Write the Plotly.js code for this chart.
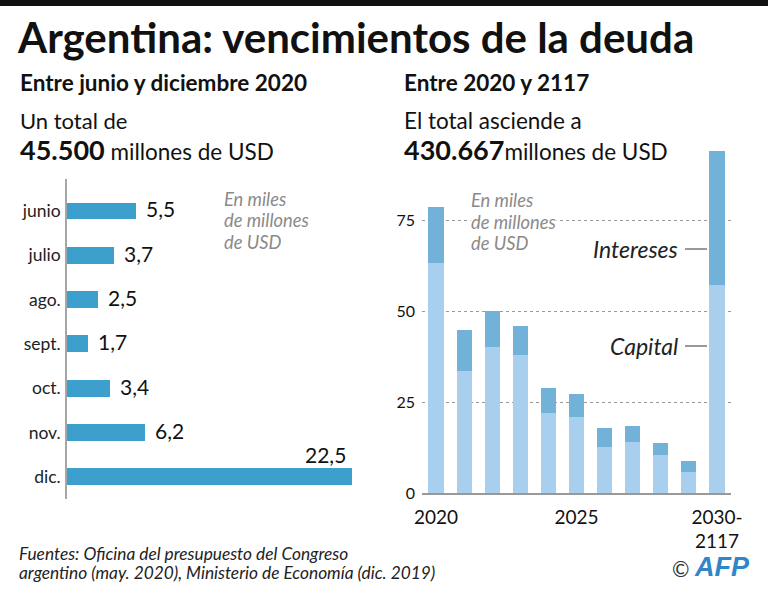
<!DOCTYPE html>
<html>
<head>
<meta charset="utf-8">
<script src="https://cdn.plot.ly/plotly-3.0.1.min.js"></script>
<style>
html,body{margin:0;padding:0;background:#fff;}
#chart{width:768px;height:593px;}
</style>
</head>
<body>
<div id="chart"></div>
<script>
// ---- Data ----
const months = ['junio', 'julio', 'ago.', 'sept.', 'oct.', 'nov.', 'dic.'];
const monthValues = [5.5, 3.7, 2.5, 1.7, 3.4, 6.2, 22.5];

const years = ['2020', '2021', '2022', '2023', '2024', '2025', '2026', '2027', '2028', '2029', '2030-2117'];
const capital = [63.4, 33.6, 40.1, 38.1, 22.0, 21.0, 12.7, 14.1, 10.4, 5.9, 57.1];
const interest = [15.4, 11.4, 9.9, 7.9, 6.8, 6.2, 5.2, 4.3, 3.4, 3.1, 36.9];

const yearTickVals = ['2020', '2025', '2030-2117'];
const yearTickText = ['2020', '2025', '2030-<br>2117'];
const valueTicks = [0, 25, 50, 75];
const unitLines = ['En miles', 'de millones', 'de USD'];

// ---- Layout helpers ----
const W = 768, H = 593;
const FONT = 'Lato, "Noto Sans", sans-serif';
const px = x => x / W;
const py = y => 1 - y / H;
const fmt = v => v.toFixed(1).replace('.', ',');

const traces = [
  {
    type: 'bar', orientation: 'h', x: monthValues, y: months,
    xaxis: 'x', yaxis: 'y', width: 0.38,
    marker: {color: '#3d9fcc'}, hoverinfo: 'skip'
  },
  {
    type: 'bar', x: years, y: capital, name: 'Capital',
    xaxis: 'x2', yaxis: 'y2', width: 0.54,
    marker: {color: '#a8d0ee'}, hoverinfo: 'skip'
  },
  {
    type: 'bar', x: years, y: interest, name: 'Intereses',
    xaxis: 'x2', yaxis: 'y2', width: 0.54,
    marker: {color: '#72b1d8'}, hoverinfo: 'skip'
  }
];

const annotations = [];
function txt(text, x, y, opts) {
  annotations.push(Object.assign({
    text: text, xref: 'paper', yref: 'paper', x: px(x), y: py(y),
    xanchor: 'left', yanchor: 'middle', showarrow: false,
    font: {family: FONT, size: 20, color: '#111'}
  }, opts || {}));
}

// Headers
txt('<b>Argentina: vencimientos de la deuda</b>', 15, 37, {font: {family: FONT, size: 42, color: '#111'}});
txt('<b>Entre junio y diciembre 2020</b>', 18, 82, {font: {family: FONT, size: 22.5, color: '#111'}});
txt('Un total de', 18, 121, {font: {family: FONT, size: 22, color: '#111'}});
txt('<span style="font-size:27px"><b>45.500</b></span> millones de USD', 18, 149, {font: {family: FONT, size: 22.5, color: '#111'}});
txt('<b>Entre 2020 y 2117</b>', 402, 82, {font: {family: FONT, size: 22.5, color: '#111'}});
txt('El total asciende a', 402, 121, {font: {family: FONT, size: 22.5, color: '#111'}});
txt('<span style="font-size:27px"><b>430.667</b></span>millones de USD', 402, 149, {font: {family: FONT, size: 22.5, color: '#111'}});

// Unit notes (one annotation per line for tight line spacing)
unitLines.forEach((line, i) => {
  txt('<i>' + line + '</i>', 223, 198 + i * 22, {height: 21, borderpad: 0, font: {family: FONT, size: 18.3, color: '#8a8a8a'}});
  txt('<i>' + line + '</i>', 470, 199 + i * 22, {height: 21, font: {family: FONT, size: 18.3, color: '#8a8a8a'}, bgcolor: '#ffffff', borderpad: 0});
});

// Series labels
txt('<i>Intereses</i>', 680, 249, {xanchor: 'right', font: {family: FONT, size: 23, color: '#222'}});
txt('<i>Capital</i>', 680, 346, {xanchor: 'right', font: {family: FONT, size: 23, color: '#222'}});

// Footer
txt('<i>Fuentes: Oficina del presupuesto del Congreso</i>', 17, 553, {height: 19, font: {family: FONT, size: 17.3, color: '#222'}});
txt('<i>argentino (may. 2020), Ministerio de Economía (dic. 2019)</i>', 17, 572, {height: 19, font: {family: FONT, size: 17.3, color: '#222'}});
txt('©', 670, 568, {font: {family: FONT, size: 21, color: '#333'}});
txt('<b><i>AFP</i></b>', 692, 567, {font: {family: 'Liberation Sans, Arial, sans-serif', size: 27, color: '#2f86c8'}});

// Value labels for monthly bars (data-driven positions)
const maxMonth = Math.max(...monthValues);
months.forEach((m, i) => {
  const v = monthValues[i];
  const big = v === maxMonth;
  annotations.push({
    text: fmt(v), xref: 'x', yref: 'y', x: v, y: m,
    xanchor: big ? 'right' : 'left', yanchor: 'middle',
    xshift: big ? -4 : 8, yshift: big ? 22 : 2,
    showarrow: false, font: {family: FONT, size: 21, color: '#111'}
  });
});

const shapes = [
  {type: 'rect', xref: 'paper', yref: 'paper', x0: 0, x1: 1, y0: py(0), y1: py(6), fillcolor: '#111', line: {width: 0}},
  {type: 'line', xref: 'paper', yref: 'paper', x0: px(66), x1: px(66), y0: py(179), y1: py(499), line: {color: '#888', width: 1.5}},
  {type: 'line', xref: 'paper', yref: 'paper', x0: px(685), x1: px(707), y0: py(249), y1: py(249), line: {color: '#333', width: 1}},
  {type: 'line', xref: 'paper', yref: 'paper', x0: px(685), x1: px(707), y0: py(346), y1: py(346), line: {color: '#333', width: 1}}
];

const layout = {
  width: W, height: H,
  margin: {l: 0, r: 0, t: 0, b: 0},
  paper_bgcolor: '#fff', plot_bgcolor: 'rgba(0,0,0,0)',
  showlegend: false, barmode: 'stack',
  font: {family: FONT, color: '#222'},
  xaxis: {
    domain: [px(66.7), px(384)], range: [0, 25.05], anchor: 'y',
    visible: false, fixedrange: true
  },
  yaxis: {
    domain: [py(498.9), py(188.8)], type: 'category', range: [6.5, -0.5], anchor: 'x',
    showline: false, ticks: '', showgrid: false, zeroline: false,
    ticklabelstandoff: 5, tickfont: {family: FONT, size: 17.5, color: '#222'}, fixedrange: true
  },
  xaxis2: {
    domain: [px(422), px(731)], type: 'category', range: [-0.5, 10.5], anchor: 'y2',
    tickvals: yearTickVals, ticktext: yearTickText,
    showline: true, linecolor: '#999', linewidth: 1.5, ticks: '', showgrid: false, zeroline: false,
    tickfont: {family: FONT, size: 19, color: '#111'}, ticklabelstandoff: 6, fixedrange: true
  },
  yaxis2: {
    domain: [py(493.3), py(143.9)], range: [0, 96], anchor: 'x2',
    tickvals: valueTicks, showgrid: true, gridcolor: '#999', griddash: 'dot', gridwidth: 1,
    zeroline: false, showline: false, ticks: '',
    tickfont: {family: FONT, size: 16, color: '#111'}, ticklabelstandoff: 6, fixedrange: true
  },
  annotations: annotations,
  shapes: shapes
};

Plotly.newPlot('chart', traces, layout, {staticPlot: true, displayModeBar: false});
</script>
</body>
</html>
